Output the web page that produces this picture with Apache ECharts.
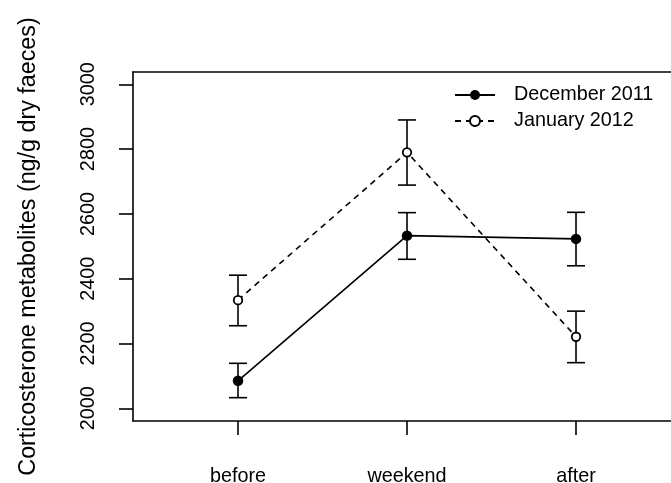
<!DOCTYPE html>
<html>
<head>
<meta charset="utf-8">
<script src="https://cdn.jsdelivr.net/npm/echarts@6/dist/echarts.min.js"></script>
<style>html,body{margin:0;padding:0;background:#fff;}#c{width:671px;height:483px;}</style>
</head>
<body>
<div id="c"></div>
<script>
const categories = ['before', 'weekend', 'after'];
const catPos = [1, 2, 3];
const yTicks = [2000, 2200, 2400, 2600, 2800, 3000];
const decMean = [2085, 2533, 2523];
const decLow = [2033, 2460, 2440];
const decHigh = [2139, 2604, 2605];
const janMean = [2334, 2790, 2221];
const janLow = [2255, 2689, 2141];
const janHigh = [2411, 2890, 2300];

const FONT = 'Liberation Sans, Arial, Helvetica, sans-serif';
const chart = echarts.init(document.getElementById('c'), null, {renderer: 'canvas'});

function errData(low, high) {
  return catPos.map((x, i) => [x, low[i], high[i]]);
}
function errSeries(name, low, high) {
  return {
    type: 'custom',
    name: name + ' err',
    z: 1,
    silent: true,
    data: errData(low, high),
    renderItem: function (params, api) {
      const x = api.value(0);
      const lo = api.coord([x, api.value(1)]);
      const hi = api.coord([x, api.value(2)]);
      const hw = 9;
      const st = {stroke: '#000', lineWidth: 1.6, fill: null};
      return {
        type: 'group',
        children: [
          {type: 'line', shape: {x1: lo[0], y1: lo[1], x2: hi[0], y2: hi[1]}, style: st},
          {type: 'line', shape: {x1: lo[0] - hw, y1: lo[1], x2: lo[0] + hw, y2: lo[1]}, style: st},
          {type: 'line', shape: {x1: hi[0] - hw, y1: hi[1], x2: hi[0] + hw, y2: hi[1]}, style: st}
        ]
      };
    }
  };
}

const axisLineStyle = {color: '#000', width: 1.6};

chart.setOption({
  animation: false,
  backgroundColor: '#fff',
  textStyle: {fontFamily: FONT},
  grid: {
    left: 133, top: 72, right: 0, height: 349,
    outerBoundsMode: 'none',
    containLabel: false,
    show: false
  },
  legend: {
    orient: 'vertical',
    left: 454,
    top: 85,
    padding: 0,
    itemWidth: 40,
    itemHeight: 12.5,
    itemGap: 6,
    textStyle: {fontFamily: FONT, fontSize: 19.8, color: '#000', padding: [0, 0, 0, 14]},
    data: ['December 2011', 'January 2012']
  },
  xAxis: [{
    type: 'value',
    min: 0.3787,
    max: 3.562,
    position: 'bottom',
    splitLine: {show: false},
    axisLine: {show: true, onZero: false, lineStyle: axisLineStyle},
    axisTick: {show: true, length: 14, lineStyle: axisLineStyle, customValues: catPos},
    axisLabel: {
      customValues: catPos,
      margin: 46,
      fontFamily: FONT, fontSize: 19.8, color: '#000',
      formatter: function (v) { return categories[Math.round(v) - 1]; }
    }
  }, {
    type: 'value',
    min: 0.3787,
    max: 3.562,
    position: 'top',
    splitLine: {show: false},
    axisLine: {show: true, onZero: false, lineStyle: axisLineStyle},
    axisTick: {show: false},
    axisLabel: {show: false}
  }],
  yAxis: {
    type: 'value',
    min: 1961,
    max: 3038,
    splitLine: {show: false},
    axisLine: {show: true, onZero: false, lineStyle: axisLineStyle},
    axisTick: {show: true, length: 14, lineStyle: axisLineStyle, customValues: yTicks},
    axisLabel: {
      customValues: yTicks,
      rotate: 90,
      margin: 34,
      fontFamily: FONT, fontSize: 19.8, color: '#000',
      formatter: function (v) { return String(v); }
    },
    name: 'Corticosterone metabolites (ng/g dry faeces)',
    nameLocation: 'middle',
    nameRotate: 90,
    nameGap: 93,
    nameTextStyle: {fontFamily: FONT, fontSize: 23.3, color: '#000'}
  },
  series: [
    errSeries('December 2011', decLow, decHigh),
    errSeries('January 2012', janLow, janHigh),
    {
      name: 'December 2011',
      type: 'line',
      z: 3,
      data: catPos.map((x, i) => [x, decMean[i]]),
      symbol: 'circle',
      symbolSize: 10.5,
      lineStyle: {color: '#000', width: 1.6, type: 'solid'},
      itemStyle: {color: '#000', borderColor: '#000', borderWidth: 0}
    },
    {
      name: 'January 2012',
      type: 'line',
      z: 3,
      data: catPos.map((x, i) => [x, janMean[i]]),
      symbol: 'circle',
      symbolSize: 8.5,
      lineStyle: {color: '#000', width: 1.6, type: [6, 5]},
      itemStyle: {color: '#fff', borderColor: '#000', borderWidth: 1.8}
    }
  ]
});
</script>
</body>
</html>
